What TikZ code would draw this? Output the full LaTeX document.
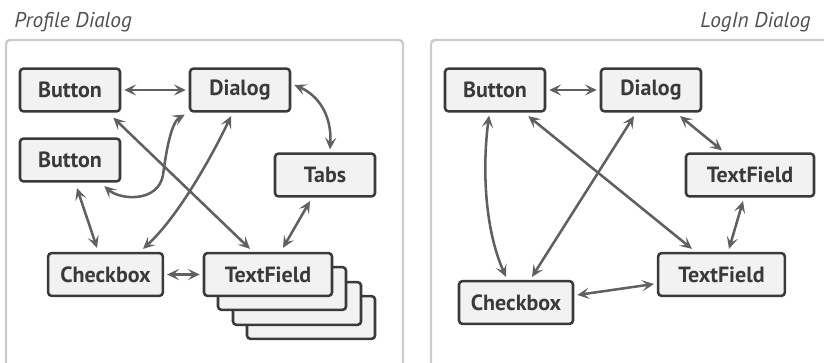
\documentclass[tikz,border=0pt]{standalone}
\usepackage{fontspec}
\setmainfont{PT Sans}
\usetikzlibrary{arrows.meta,calc}
\definecolor{boxfill}{HTML}{F2F2F2}
\definecolor{boxline}{HTML}{3A3A3A}
\definecolor{arrowc}{HTML}{606060}
\definecolor{framec}{HTML}{CCCCCC}
\definecolor{titlec}{HTML}{505050}
\begin{document}
\begin{tikzpicture}[x=0.75pt,y=-0.75pt,
  box/.style={draw=boxline,fill=boxfill,line width=1.9pt,rounded corners=2.5pt,
    minimum height=32pt,inner sep=0pt,font=\fontsize{16.5}{19}\selectfont\bfseries,text=boxline},
  w100/.style={minimum width=75pt},
  conn/.style={draw=arrowc,line width=1.9pt,
    {Stealth[length=9pt,width=8.5pt,inset=4pt]}-{Stealth[length=9pt,width=8.5pt,inset=4pt]}},
  frame/.style={draw=framec,line width=1.8pt,rounded corners=3pt},
  title/.style={font=\fontsize{16}{18}\selectfont\itshape,text=titlec,inner sep=0pt}]
\useasboundingbox (0,0) rectangle (824,363);
\clip (0,0) rectangle (824,363);
% frames
\draw[frame] (6,380) -- (6,40) -- (403,40) -- (403,380);
\draw[frame] (431,380) -- (431,40) -- (840,40);
\node[title,anchor=base west] (t1) at (14,28) {Profile Dialog};
\node[title,anchor=base east] (t2) at (811,28) {LogIn Dialog};
% left panel
\node[box,minimum width=96pt] (s3) at (311,317.5) {};
\node[box,minimum width=96pt] (s2) at (297,303.5) {};
\node[box,minimum width=96pt] (s1) at (282,288.5) {};
\node[box,w100] (lb1) at (70,90) {Button};
\node[box,w100] (ld) at (240,90) {Dialog};
\node[box,w100] (lb2) at (70,160) {Button};
\node[box,w100] (lt) at (325,175) {Tabs};
\node[box,minimum width=86pt] (lc) at (105.5,274.5) {Checkbox};
\node[box,minimum width=96pt] (ltf) at (268,274.5) {TextField};
\draw[conn] ($(lb1.east)+(3,0)$) -- ($(ld.west)+(-3,0)$);
\draw[conn] ($(ld.east)+(3,-5)$) .. controls (318,95) and (332,115) .. ($(lt.north)+(5,-3)$);
\draw[conn] ($(lb1.south east)+(-8,5)$) -- ($(ltf.north)+(-18,-3)$);
\draw[conn] ($(ld.south)+(-9,3.5)$) .. controls (215,150) and (180,215) .. ($(lc.north)+(37.5,-3)$);
\draw[conn] ($(lb2.south east)+(-17,3.5)$) .. controls (120,200) and (158,203) .. (163,175)
  .. controls (167,145) and (172,122) .. ($(ld.south west)+(-4,2)$);
\draw[conn] ($(lb2.south)+(7,5.5)$) -- ($(lc.north)+(-8.5,-4)$);
\draw[conn] ($(lt.south)+(-15,3.5)$) -- ($(ltf.north)+(15,-4)$);
\draw[conn] ($(lc.east)+(3,0)$) -- ($(ltf.west)+(-3,0)$);
% right panel
\node[box,w100] (rb) at (495,90) {Button};
\node[box,w100] (rd) at (651,90) {Dialog};
\node[box,minimum width=96pt] (rt1) at (750,175) {TextField};
\node[box,minimum width=95pt] (rt2) at (721.5,274.5) {TextField};
\node[box,minimum width=85.5pt] (rc) at (516,302.5) {Checkbox};
\draw[conn] ($(rb.east)+(3,0)$) -- ($(rd.west)+(-3,0)$);
\draw[conn] ($(rd.south)+(29,3.5)$) -- ($(rt1.north)+(-28,-2)$);
\draw[conn] ($(rt1.south)+(-7,3.5)$) -- ($(rt2.north)+(7.5,-3)$);
\draw[conn] ($(rc.east)+(3,-7.5)$) -- ($(rt2.west)+(-3,9.5)$);
\draw[conn] ($(rb.south)+(-6,3)$) .. controls (482,170) and (485,230) .. ($(rc.north)+(-10,-3)$);
\draw[conn] ($(rd.south)+(-17,3.5)$) -- ($(rc.north)+(16,-3)$);
\draw[conn] ($(rb.south east)+(-18,3.5)$) -- ($(rt2.north)+(-29.5,-3)$);
\end{tikzpicture}
\end{document}
